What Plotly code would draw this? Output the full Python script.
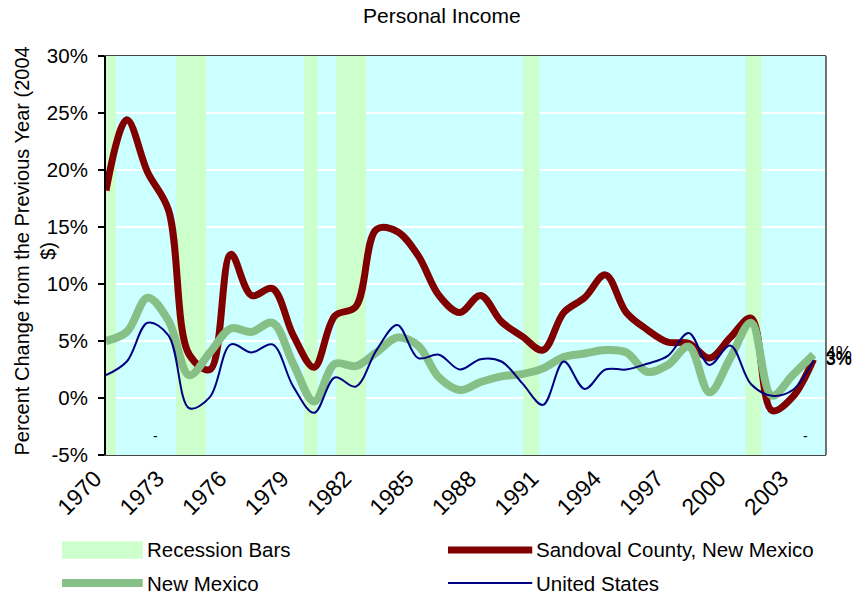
import plotly.graph_objects as go

# Annual percent change in real personal income (2004 dollars)
years = list(range(1970, 2005))

sandoval = [18.2, 24.4, 19.8, 16.5, 3.8, 2.5, 12.6, 9.0, 9.6, 5.5,
            2.7, 7.2, 8.0, 14.8, 14.6, 12.5, 9.0, 7.5, 9.0, 6.7,
            5.4, 4.2, 7.5, 8.8, 10.8, 7.5, 6.0, 4.9, 4.8, 3.5,
            5.3, 7.0, -1.1, 0.1, 3.4]

new_mexico = [5.0, 5.8, 8.8, 6.8, 2.0, 4.0, 6.1, 5.8, 6.6, 3.0,
              -0.3, 3.0, 2.8, 4.0, 5.3, 4.6, 1.8, 0.7, 1.4, 1.9,
              2.1, 2.6, 3.6, 3.9, 4.2, 4.0, 2.3, 2.9, 4.5, 0.5,
              3.5, 6.6, 0.2, 2.0, 3.8]

united_states = [2.0, 3.2, 6.6, 5.5, -0.9, 0.1, 4.7, 4.0, 4.7, 1.0,
                 -1.3, 1.8, 1.0, 4.2, 6.4, 3.5, 3.8, 2.5, 3.4, 3.2,
                 1.3, -0.6, 3.2, 0.8, 2.5, 2.5, 3.0, 3.7, 5.7, 2.9,
                 4.6, 1.2, 0.2, 0.7, 3.3]

# Recession periods (start / end, decimal years)
rec_start = [1970.0, 1973.37, 1979.52, 1981.06, 1990.06, 2000.74]
rec_end = [1970.48, 1974.81, 1980.15, 1982.5, 1990.83, 2001.5]

tick_years = list(range(1970, 2004, 3))
tick_labels = [str(y) for y in tick_years]

y_min, y_max = -5, 30
y_ticks = list(range(-5, 31, 5))
y_tick_labels = [f"{v}%" for v in y_ticks]

FONT = "Liberation Sans, Arial, sans-serif"
FS = 20.5

rec_center = [(s + e) / 2 for s, e in zip(rec_start, rec_end)]
rec_width = [e - s for s, e in zip(rec_start, rec_end)]
rec_height = [y_max - y_min for _ in rec_start]


def end_label(values):
    return [""] * (len(values) - 1) + [f"{round(values[-1]):.0f}%"]


def end_marker(values):
    # invisible marker on the last point pushes its label off the line end
    return dict(size=[0] * (len(values) - 1) + [18], color="rgba(0,0,0,0)",
                line=dict(width=0))


fig = go.Figure()

fig.add_trace(go.Bar(
    x=rec_center, y=rec_height, base=y_min, width=rec_width,
    marker=dict(color="#CCFFCC", line=dict(width=0)),
    name="Recession Bars", showlegend=False, hoverinfo="skip",
))

series = [
    ("Sandoval County, New Mexico", sandoval, dict(color="#800000", width=7)),
    ("New Mexico", new_mexico, dict(color="#86C086", width=8)),
    ("United States", united_states, dict(color="#000080", width=2)),
]
for name, vals, line in series:
    fig.add_trace(go.Scatter(
        x=years, y=vals, mode="lines+markers+text", name=name,
        line=dict(shape="spline", **line),
        marker=end_marker(vals),
        text=end_label(vals), textposition="middle right",
        textfont=dict(family=FONT, size=18, color="black"),
        cliponaxis=False, showlegend=False,
    ))

x_range = [1970, 2004.6]

fig.update_layout(
    width=853, height=596,
    margin=dict(l=106, r=27, t=56, b=141),
    paper_bgcolor="white",
    plot_bgcolor="#CCFFFF",
    barmode="overlay",
    font=dict(family=FONT, size=FS, color="black"),
    title=dict(text="Personal Income", x=0.518, xref="container",
               y=0.974, yref="container", yanchor="middle", xanchor="center",
               font=dict(family=FONT, size=21, color="black")),
    xaxis=dict(
        range=x_range, tickvals=tick_years, ticktext=tick_labels,
        tickangle=-45, ticks="", showgrid=False, zeroline=False,
        showline=True, linecolor="#444444", linewidth=1, mirror=True,
        tickfont=dict(family=FONT, size=23), automargin=False,
        ticklabelshift=-11, ticklabelstandoff=0,
    ),
    xaxis2=dict(
        overlaying="x", anchor="free", position=(0 - y_min) / (y_max - y_min),
        range=x_range, tickvals=tick_years, showticklabels=False,
        ticks="outside", ticklen=7, tickwidth=2, tickcolor="black",
        showgrid=False, zeroline=False,
        showline=True, linecolor="black", linewidth=2.5,
    ),
    yaxis=dict(
        range=[y_min, y_max], tickvals=y_ticks, ticktext=y_tick_labels,
        ticks="outside", ticklen=6, tickwidth=2, tickcolor="black",
        showline=True, linecolor="black", linewidth=2,
        showgrid=True, gridcolor="white", gridwidth=2, zeroline=False,
        tickfont=dict(family=FONT, size=FS), automargin=False,
        ticklabelstandoff=6,
    ),
    showlegend=False,
)

# y-axis title, two lines, rotated
fig.add_annotation(x=-0.0986, y=0.51, xref="paper", yref="paper",
                   text="Percent Change from the Previous Year (2004<br>$)",
                   textangle=-90, showarrow=False, xanchor="center", yanchor="middle",
                   font=dict(family=FONT, size=20, color="black"))

# right border of the plot area
fig.add_shape(type="line", xref="paper", yref="paper", x0=1, x1=1, y0=0, y1=1,
              line=dict(color="#444444", width=1.5))

# small dash markers below the zero line
for xd in (1972.4, 2003.6):
    fig.add_annotation(x=xd, y=-3.3, xref="x", yref="y", text="-",
                       showarrow=False, font=dict(family=FONT, size=14))

# legend drawn below the chart in two columns
legend_rows = [-0.238, -0.321]
col_sym = [(-0.061, 0.051), (0.475, 0.592)]
col_text = [0.054, 0.595]

fig.add_shape(type="rect", xref="paper", yref="paper",
              x0=col_sym[0][0], x1=col_sym[0][1],
              y0=legend_rows[0] - 0.022, y1=legend_rows[0] + 0.022,
              line=dict(width=0), fillcolor="#CCFFCC")
fig.add_shape(type="line", xref="paper", yref="paper",
              x0=col_sym[1][0], x1=col_sym[1][1],
              y0=legend_rows[0], y1=legend_rows[0],
              line=dict(color="#800000", width=7))
fig.add_shape(type="line", xref="paper", yref="paper",
              x0=col_sym[0][0], x1=col_sym[0][1],
              y0=legend_rows[1], y1=legend_rows[1],
              line=dict(color="#86C086", width=8))
fig.add_shape(type="line", xref="paper", yref="paper",
              x0=col_sym[1][0], x1=col_sym[1][1],
              y0=legend_rows[1], y1=legend_rows[1],
              line=dict(color="#000080", width=2))

legend_text = [("Recession Bars", 0, 0), ("Sandoval County, New Mexico", 0, 1),
               ("New Mexico", 1, 0), ("United States", 1, 1)]
for txt, r, c in legend_text:
    fig.add_annotation(x=col_text[c], y=legend_rows[r], xref="paper", yref="paper",
                       text=txt, showarrow=False, xanchor="left", yanchor="middle",
                       font=dict(family=FONT, size=FS, color="black"))

fig.write_html("out.html")
